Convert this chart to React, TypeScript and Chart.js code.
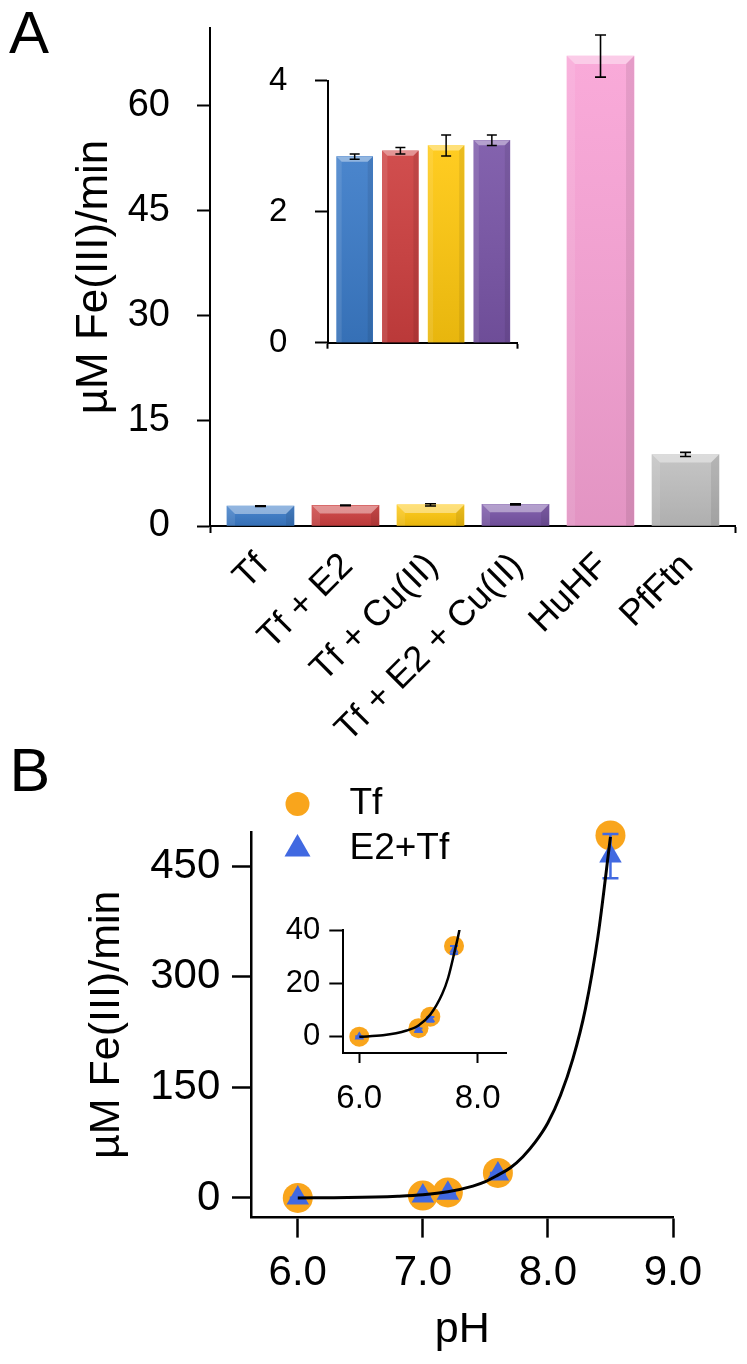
import React, { useEffect, useRef } from 'react';
import { Chart, registerables } from 'chart.js';

Chart.register(...registerables);

const FONT = "'Liberation Sans', Arial, Helvetica, sans-serif";
const BLACK = '#000000';
const ORANGE = '#F9A51C';
const BLUE = '#4169E1';

// ---------- Panel A data ----------
const categoriesA = ['Tf', 'Tf + E2', 'Tf + Cu(II)', 'Tf + E2 + Cu(II)', 'HuHF', 'PfFtn'];
const ratesA = [2.84, 2.93, 3.01, 3.09, 67.0, 10.2];
const errorsA = [0.04, 0.05, 0.16, 0.08, 3.0, 0.3];
const colorsA = ['#3B7BC8', '#CD3F3F', '#FFC80F', '#7955A7', '#F9A3D6', '#C0C0C0'];
const yTicksA = [0, 15, 30, 45, 60];
const insetCountA = 4; // the inset repeats the first four Tf conditions
const yTicksInsetA = [0, 2, 4];

// ---------- Panel B data ----------
const phValues = [6.0, 7.0, 7.2, 7.6, 8.5];
const tfRates = [0, 3.2, 7.5, 34, 492];
const tfErrors = [0.2, 0.5, 0.8, 1.2, 8];
const e2tfRates = [0, 2.5, 6.5, 32.5, 464];
const e2tfErrors = [0.2, 0.6, 0.9, 1.5, 30];
// fitted curve
const fitPH = [6.0, 6.4, 6.8, 7.0, 7.2, 7.4, 7.5, 7.6, 7.7, 7.8, 7.9, 8.0, 8.1, 8.2, 8.3, 8.4, 8.5];
const fitRates = [0, 0.5, 2.3, 4.2, 8.3, 16, 22, 31, 41, 56, 76, 102, 139, 189, 257, 355, 490];
const xTicksB = [6, 7, 8, 9];
const yTicksB = [0, 150, 300, 450];
const xTicksInsetB = [6, 8];
const yTicksInsetB = [0, 20, 40];

// ---------- helpers ----------
const fixedTicks = (values: number[]) => (scale: any) => {
  scale.ticks = values.map((v) => ({ value: v }));
};
const boundTicks = (extra: number[]) => (scale: any) => {
  scale.ticks = [scale.min, ...extra, scale.max].map((v) => ({ value: v }));
};
const fitX = (h: number) => (s: any) => {
  s.height = h;
  s.paddingLeft = 0;
  s.paddingRight = 0;
};
const fitY = (w: number) => (s: any) => {
  s.width = w;
  s.paddingTop = 0;
  s.paddingBottom = 0;
};

const bevelPlugin = {
  id: 'bevel',
  afterDatasetDraw(chart: any, args: any) {
    const ds = chart.data.datasets[args.index];
    if (!ds.bevel) return;
    const ctx = chart.ctx;
    ctx.save();
    args.meta.data.forEach((el: any) => {
      const { x, y, base, width } = el.getProps(['x', 'y', 'base', 'width'], true);
      const l = x - width / 2;
      const r = x + width / 2;
      const t = Math.min(y, base);
      const b = Math.max(y, base);
      const h = b - t;
      const e = Math.min(ds.bevel, h / 2, width / 4);
      const g = ctx.createLinearGradient(0, t, 0, b);
      g.addColorStop(0, 'rgba(255,255,255,0.08)');
      g.addColorStop(1, 'rgba(0,0,0,0.09)');
      ctx.fillStyle = g;
      ctx.fillRect(l, t, width, h);
      ctx.fillStyle = 'rgba(255,255,255,0.40)';
      ctx.beginPath();
      ctx.moveTo(l, t);
      ctx.lineTo(r, t);
      ctx.lineTo(r - e, t + e);
      ctx.lineTo(l + e, t + e);
      ctx.closePath();
      ctx.fill();
      ctx.fillStyle = 'rgba(255,255,255,0.10)';
      ctx.beginPath();
      ctx.moveTo(l, t);
      ctx.lineTo(l + e, t + e);
      ctx.lineTo(l + e, b);
      ctx.lineTo(l, b);
      ctx.closePath();
      ctx.fill();
      ctx.fillStyle = 'rgba(0,0,0,0.08)';
      ctx.beginPath();
      ctx.moveTo(r, t);
      ctx.lineTo(r - e, t + e);
      ctx.lineTo(r - e, b);
      ctx.lineTo(r, b);
      ctx.closePath();
      ctx.fill();
    });
    ctx.restore();
  },
};

const errorBarPlugin = {
  id: 'errorBarsDraw',
  afterDatasetDraw(chart: any, args: any) {
    const ds = chart.data.datasets[args.index];
    const spec = ds.errorBars;
    if (!spec) return;
    const yScale = chart.scales.y;
    const ctx = chart.ctx;
    ctx.save();
    ctx.strokeStyle = spec.color;
    ctx.lineWidth = spec.width;
    args.meta.data.forEach((el: any, i: number) => {
      const raw = ds.data[i];
      const v = typeof raw === 'number' ? raw : raw.y;
      const err = spec.errors[i];
      if (!err) return;
      const x = el.x;
      const y1 = yScale.getPixelForValue(v + err);
      const y2 = yScale.getPixelForValue(v - err);
      ctx.beginPath();
      ctx.moveTo(x, y1);
      ctx.lineTo(x, y2);
      ctx.moveTo(x - spec.cap, y1);
      ctx.lineTo(x + spec.cap, y1);
      ctx.moveTo(x - spec.cap, y2);
      ctx.lineTo(x + spec.cap, y2);
      ctx.stroke();
    });
    ctx.restore();
  },
};

function drawSymbol(ctx: any, style: string, cx: number, cy: number, r: number) {
  ctx.beginPath();
  if (style === 'triangle') {
    const c = Math.cos(Math.PI / 6) * r;
    ctx.moveTo(cx, cy - r);
    ctx.lineTo(cx + c, cy + r / 2);
    ctx.lineTo(cx - c, cy + r / 2);
    ctx.closePath();
  } else {
    ctx.arc(cx, cy, r, 0, Math.PI * 2);
  }
  ctx.fill();
}

const symbolLegendPlugin = {
  id: 'symbolLegend',
  afterDraw(chart: any, _args: any, opts: any) {
    if (!opts || !opts.show) return;
    const { ctx, chartArea } = chart;
    const items = chart.data.datasets.filter((d: any) => d.legendText);
    ctx.save();
    items.forEach((d: any, row: number) => {
      const cx = chartArea.left + opts.dx;
      const cy = chartArea.top + opts.dy + row * opts.rowGap;
      ctx.fillStyle = d.backgroundColor;
      drawSymbol(ctx, d.pointStyle, cx, cy, d.legendRadius);
      ctx.fillStyle = BLACK;
      ctx.font = `${opts.size}px ${FONT}`;
      ctx.textBaseline = 'middle';
      ctx.textAlign = 'left';
      ctx.fillText(d.legendText, cx + opts.textGap, cy);
    });
    ctx.restore();
  },
};

const basePlugins = { legend: { display: false }, tooltip: { enabled: false } };

function configMainA(): any {
  return {
    type: 'bar',
    data: {
      datasets: [
        {
          data: ratesA.map((y, i) => ({ x: i, y })),
          backgroundColor: colorsA,
          borderWidth: 0,
          barThickness: 67,
          bevel: 8,
          errorBars: { errors: errorsA, color: BLACK, width: 1.6, cap: 5.5 },
        },
      ],
    },
    options: {
      responsive: false,
      animation: false,
      layout: { padding: { top: 28, right: 12, bottom: 0, left: 0 } },
      plugins: basePlugins,
      scales: {
        x: {
          type: 'linear',
          min: -0.594,
          max: 5.582,
          offset: false,
          afterBuildTicks: boundTicks(categoriesA.map((_, i) => i)),
          afterFit: fitX(234),
          grid: {
            drawOnChartArea: false,
            offset: false,
            tickLength: 7,
            tickWidth: 2,
            tickColor: (c: any) => (c.tick && Number.isInteger(c.tick.value) ? 'rgba(0,0,0,0)' : BLACK),
          },
          border: { color: BLACK, width: 2 },
          ticks: {
            autoSkip: false,
            minRotation: 45,
            maxRotation: 45,
            padding: 12,
            labelOffset: 2,
            color: BLACK,
            font: { family: FONT, size: 36 },
            callback: (v: number) =>
              Number.isInteger(v) && v >= 0 && v < categoriesA.length ? categoriesA[v] : '',
          },
        },
        y: {
          min: 0,
          max: 71,
          afterBuildTicks: fixedTicks(yTicksA),
          afterFit: fitY(210),
          grid: { drawOnChartArea: false, tickLength: 13, tickWidth: 2, tickColor: BLACK },
          border: { color: BLACK, width: 2 },
          ticks: { padding: 27, color: BLACK, font: { family: FONT, size: 38 } },
          title: {
            display: true,
            text: 'µM Fe(III)/min',
            color: BLACK,
            font: { family: FONT, size: 44 },
            padding: { top: 68, bottom: 0 },
          },
        },
      },
    },
    plugins: [bevelPlugin, errorBarPlugin],
  };
}

function configInsetA(): any {
  return {
    type: 'bar',
    data: {
      datasets: [
        {
          data: ratesA.slice(0, insetCountA).map((y, i) => ({ x: i, y })),
          backgroundColor: colorsA.slice(0, insetCountA),
          borderWidth: 0,
          barThickness: 36,
          bevel: 5,
          errorBars: { errors: errorsA.slice(0, insetCountA), color: BLACK, width: 1.5, cap: 5 },
        },
      ],
    },
    options: {
      responsive: false,
      animation: false,
      layout: { padding: { top: 30.7, right: 23, bottom: 0, left: 0 } },
      plugins: basePlugins,
      scales: {
        x: {
          type: 'linear',
          min: -0.59,
          max: 3.55,
          offset: false,
          afterBuildTicks: boundTicks([]),
          afterFit: fitX(17.3),
          grid: { drawOnChartArea: false, offset: false, tickLength: 6, tickWidth: 2, tickColor: BLACK },
          border: { color: BLACK, width: 2 },
          ticks: { autoSkip: false, maxRotation: 0, callback: () => '' },
        },
        y: {
          min: 0,
          max: 4,
          afterBuildTicks: fixedTicks(yTicksInsetA),
          afterFit: fitY(127.7),
          grid: { drawOnChartArea: false, tickLength: 12.7, tickWidth: 2, tickColor: BLACK },
          border: { color: BLACK, width: 2 },
          ticks: { padding: 27.7, color: BLACK, font: { family: FONT, size: 33 } },
        },
      },
    },
    plugins: [bevelPlugin, errorBarPlugin],
  };
}

function pointsB(inset: boolean): any[] {
  return [
    {
      legendText: 'Tf',
      legendRadius: 12,
      data: phValues.map((x, i) => ({ x, y: tfRates[i] })),
      pointStyle: 'circle',
      pointRadius: inset ? 10 : 15,
      backgroundColor: ORANGE,
      pointBackgroundColor: ORANGE,
      pointBorderWidth: 0,
      borderWidth: 0,
      order: 2,
      clip: false,
      errorBars: { errors: tfErrors, color: ORANGE, width: 2, cap: inset ? 3 : 6 },
    },
    {
      legendText: 'E2+Tf',
      legendRadius: 15,
      data: phValues.map((x, i) => ({ x, y: e2tfRates[i] })),
      pointStyle: 'triangle',
      pointRadius: inset ? 5.5 : 13,
      backgroundColor: BLUE,
      pointBackgroundColor: BLUE,
      pointBorderWidth: 0,
      borderWidth: 0,
      order: 1,
      clip: false,
      errorBars: { errors: e2tfErrors, color: BLUE, width: inset ? 2 : 2.5, cap: inset ? 4 : 8 },
    },
    {
      data: fitPH.map((x, i) => ({ x, y: fitRates[i] })),
      showLine: true,
      pointRadius: 0,
      borderColor: BLACK,
      borderWidth: inset ? 2.5 : 3,
      cubicInterpolationMode: 'monotone',
      fill: false,
      order: 0,
    },
  ];
}

function configMainB(): any {
  return {
    type: 'scatter',
    data: { datasets: pointsB(false) },
    options: {
      responsive: false,
      animation: false,
      layout: { padding: { top: 72, right: 74, bottom: 0, left: 0 } },
      plugins: {
        ...basePlugins,
        symbolLegend: { show: true, dx: 46, dy: -28, rowGap: 45, textGap: 52, size: 37 },
      },
      scales: {
        x: {
          type: 'linear',
          min: 5.63,
          max: 9.0,
          afterBuildTicks: fixedTicks(xTicksB),
          afterFit: fitX(146.4),
          grid: { drawOnChartArea: false, tickLength: 20, tickWidth: 2.5, tickColor: BLACK },
          border: { color: BLACK, width: 2.5 },
          ticks: {
            padding: 10.7,
            maxRotation: 0,
            autoSkip: false,
            color: BLACK,
            font: { family: FONT, size: 42 },
            callback: (v: number) => Number(v).toFixed(1),
          },
          title: {
            display: true,
            text: 'pH',
            color: BLACK,
            font: { family: FONT, size: 43 },
            padding: { top: 0, bottom: 8 },
          },
        },
        y: {
          type: 'linear',
          min: -26.7,
          max: 496.7,
          afterBuildTicks: fixedTicks(yTicksB),
          afterFit: fitY(251.5),
          grid: { drawOnChartArea: false, tickLength: 19.5, tickWidth: 2.5, tickColor: BLACK },
          border: { color: BLACK, width: 2.5 },
          ticks: { padding: 11.7, color: BLACK, font: { family: FONT, size: 42 } },
          title: {
            display: true,
            text: 'µM Fe(III)/min',
            color: BLACK,
            font: { family: FONT, size: 43 },
            padding: { top: 81, bottom: 0 },
          },
        },
      },
    },
    plugins: [errorBarPlugin, symbolLegendPlugin],
  };
}

function configInsetB(): any {
  const ds = pointsB(true).map((d) => (d.showLine ? d : { ...d, legendText: undefined }));
  return {
    type: 'scatter',
    data: { datasets: ds },
    options: {
      responsive: false,
      animation: false,
      layout: { padding: { top: 30, right: 23.3, bottom: 0, left: 0 } },
      plugins: basePlugins,
      scales: {
        x: {
          type: 'linear',
          min: 5.73,
          max: 8.49,
          afterBuildTicks: fixedTicks(xTicksInsetB),
          afterFit: fitX(67.3),
          grid: { drawOnChartArea: false, tickLength: 10.3, tickWidth: 2, tickColor: BLACK },
          border: { color: BLACK, width: 2 },
          ticks: {
            padding: 15.8,
            maxRotation: 0,
            autoSkip: false,
            color: BLACK,
            font: { family: FONT, size: 33 },
            callback: (v: number) => Number(v).toFixed(1),
          },
        },
        y: {
          type: 'linear',
          min: -6,
          max: 40,
          afterBuildTicks: fixedTicks(yTicksInsetB),
          afterFit: fitY(103.3),
          grid: { drawOnChartArea: false, tickLength: 14, tickWidth: 2, tickColor: BLACK },
          border: { color: BLACK, width: 2 },
          ticks: { padding: 9, color: BLACK, font: { family: FONT, size: 31 } },
        },
      },
    },
    plugins: [errorBarPlugin],
  };
}

const abs = (left: number, top: number): React.CSSProperties => ({ position: 'absolute', left, top });

export default function App() {
  const mainARef = useRef<HTMLCanvasElement>(null);
  const insetARef = useRef<HTMLCanvasElement>(null);
  const mainBRef = useRef<HTMLCanvasElement>(null);
  const insetBRef = useRef<HTMLCanvasElement>(null);

  useEffect(() => {
    const charts: Chart[] = [];
    if (mainARef.current) charts.push(new Chart(mainARef.current, configMainA()));
    if (insetARef.current) charts.push(new Chart(insetARef.current, configInsetA()));
    if (mainBRef.current) charts.push(new Chart(mainBRef.current, configMainB()));
    if (insetBRef.current) charts.push(new Chart(insetBRef.current, configInsetB()));
    return () => charts.forEach((c) => c.destroy());
  }, []);

  const panelLabel = (size: number): React.CSSProperties => ({
    fontFamily: FONT,
    fontSize: size,
    lineHeight: `${size}px`,
    color: BLACK,
  });

  return (
    <div
      style={{
        position: 'absolute',
        left: 0,
        top: 0,
        width: 747,
        height: 1364,
        background: '#ffffff',
        overflow: 'hidden',
      }}
    >
      <canvas ref={mainARef} width={747} height={760} style={abs(0, 0)} />
      <canvas ref={insetARef} width={340} height={310} style={abs(200, 50)} />
      <canvas ref={mainBRef} width={747} height={604} style={abs(0, 760)} />
      <canvas ref={insetBRef} width={290} height={220} style={abs(240, 900)} />
      <div style={{ ...abs(9, 3), ...panelLabel(60) }}>A</div>
      <div style={{ ...abs(9.5, 740), ...panelLabel(61) }}>B</div>
    </div>
  );
}
